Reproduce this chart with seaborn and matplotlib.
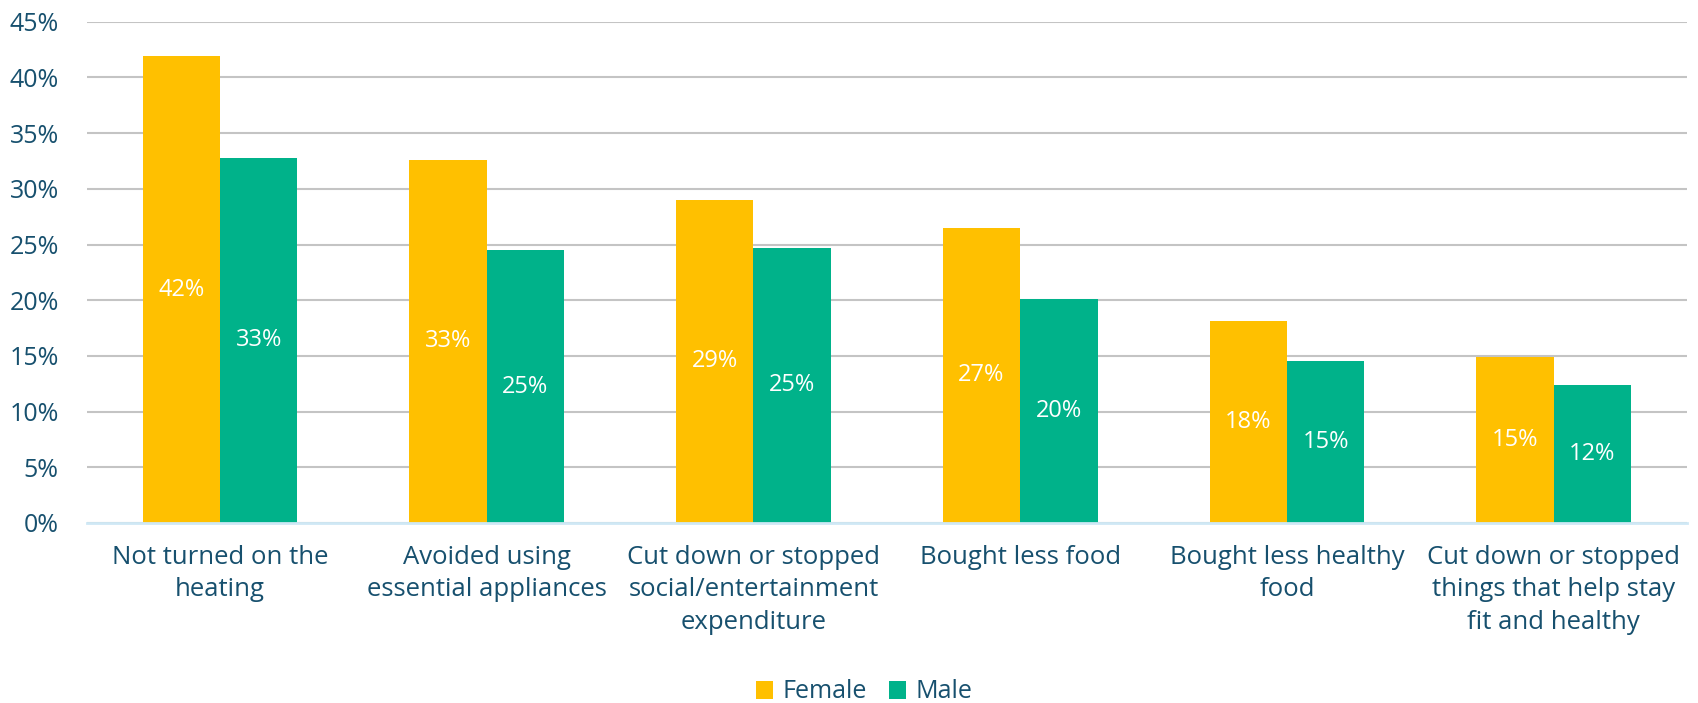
import matplotlib
matplotlib.use("Agg")
import matplotlib.pyplot as plt
import seaborn as sns
import pandas as pd
from matplotlib.patches import Patch

categories = [
    "Not turned on the\nheating",
    "Avoided using\nessential appliances",
    "Cut down or stopped\nsocial/entertainment\nexpenditure",
    "Bought less food",
    "Bought less healthy\nfood",
    "Cut down or stopped\nthings that help stay\nfit and healthy",
]
female = [41.9, 32.6, 29.0, 26.5, 18.1, 14.9]
male = [32.8, 24.5, 24.7, 20.1, 14.5, 12.4]
series = ["Female", "Male"]
yticks = [0, 5, 10, 15, 20, 25, 30, 35, 40, 45]

TEXT = "#17506e"
COLORS = {"Female": "#FFC000", "Male": "#00B28A"}
FONT = ["Open Sans", "DejaVu Sans"]

sns.set_theme(style="white")
plt.rcParams["font.family"] = FONT

df = pd.DataFrame({
    "category": categories * 2,
    "value": female + male,
    "series": ["Female"] * len(categories) + ["Male"] * len(categories),
})

W, H = 1698, 703
fig = plt.figure(figsize=(W / 100, H / 100), dpi=100)
left, right, top, bottom = 86.6, 1687, 21.7, 523
ax = fig.add_axes([left / W, 1 - bottom / H, (right - left) / W, (bottom - top) / H])

sns.barplot(data=df, x="category", y="value", hue="series", order=categories,
            hue_order=series, palette=COLORS, width=0.58, saturation=1,
            edgecolor="none", linewidth=0, ax=ax, legend=False, zorder=3)

for cont in ax.containers:
    labels = [f"{int(b.get_height() + 0.5)}%" for b in cont]
    ax.bar_label(cont, labels=labels, label_type="center", color="white",
                 fontsize=17, zorder=4)

ax.set_ylim(0, 45)
ax.set_xlim(-0.5, 5.5)
ax.set_yticks(yticks)
ax.set_yticklabels([f"{t}%" for t in yticks], fontsize=18, color=TEXT)
ax.tick_params(axis="y", length=0, pad=20)
ax.tick_params(axis="x", length=0, pad=16)
for lbl in ax.get_xticklabels():
    lbl.set_fontsize(18.5)
    lbl.set_color(TEXT)
    lbl.set_linespacing(1.38)
ax.set_xlabel("")
ax.set_ylabel("")
ax.grid(axis="y", color="#c4c4c4", linewidth=1.5, zorder=0)
for s in ["top", "right", "left"]:
    ax.spines[s].set_visible(False)
ax.spines["bottom"].set_color("#cfe8f5")
ax.spines["bottom"].set_linewidth(2)
ax.spines["bottom"].set_zorder(5)

handles = [Patch(facecolor=COLORS[s], edgecolor="none") for s in series]
fig.legend(handles, series, loc="center", bbox_to_anchor=(864 / W, 1 - 692 / H),
           ncol=2, frameon=False, fontsize=18, handlelength=0.7, handleheight=0.7,
           handletextpad=0.35, columnspacing=0.9, labelcolor=TEXT)

fig.savefig("out.png", dpi=100)
